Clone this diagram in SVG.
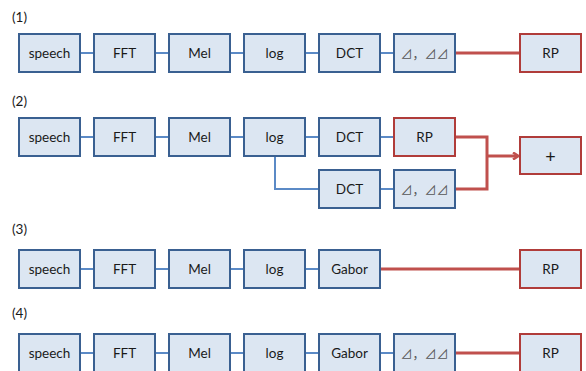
<svg xmlns="http://www.w3.org/2000/svg" width="586" height="371" viewBox="0 0 586 371">
<style>
.b{fill:#DCE6F2;stroke:#3A6091;stroke-width:2}
.r{fill:#DCE6F2;stroke:#B03C3A;stroke-width:2}
.t{font-family:Lato,"Open Sans","Liberation Sans",sans-serif;font-size:13.5px;fill:#1a1a1a;text-anchor:middle;dominant-baseline:central}
.d{font-family:"Noto Sans CJK JP","DejaVu Sans",sans-serif;font-size:12px;fill:#555;text-anchor:middle;dominant-baseline:central}
.lb{font-family:Lato,"Open Sans","Liberation Sans",sans-serif;font-size:13.5px;fill:#1a1a1a}
.cb{stroke:#5B8AC6;stroke-width:2;fill:none}
.cr{stroke:#C0504D;stroke-width:3;fill:none}
</style>
<defs>
<marker id="ah" markerWidth="8" markerHeight="8" refX="6" refY="4" orient="auto" markerUnits="userSpaceOnUse">
<path d="M1,0.5 L6.5,4 L1,7.5" fill="none" stroke="#C0504D" stroke-width="2.5"/>
</marker>
</defs>
<g id="labels">
<text class="lb" x="12" y="22">(1)</text>
<text class="lb" x="12" y="106">(2)</text>
<text class="lb" x="12" y="234">(3)</text>
<text class="lb" x="12" y="318">(4)</text>
</g>
<g id="connectors">
<path class="cb" d="M80,53H95M155,53H170M230,53H245M305,53H320M380,53H395"/>
<path class="cr" d="M455,53H520"/>
<path class="cb" d="M80,137H95M155,137H170M230,137H245M305,137H320M380,137H395"/>
<path class="cb" d="M275,156V189H320M380,189H395"/>
<path class="cr" d="M455,137H487V189H455"/>
<path class="cr" d="M487,156H518" marker-end="url(#ah)"/>
<path class="cb" d="M80,269H95M155,269H170M230,269H245M305,269H320"/>
<path class="cr" d="M380,269H520"/>
<path class="cb" d="M80,353H95M155,353H170M230,353H245M305,353H320M380,353H395"/>
<path class="cr" d="M455,353H520"/>
</g>
<g id="r1-speech"><rect class="b" x="19" y="34" width="61" height="38"/><text class="t" x="49.5" y="53">speech</text></g>
<g id="r1-fft"><rect class="b" x="94" y="34" width="61" height="38"/><text class="t" x="124.5" y="53">FFT</text></g>
<g id="r1-mel"><rect class="b" x="169" y="34" width="61" height="38"/><text class="t" x="199.5" y="53">Mel</text></g>
<g id="r1-log"><rect class="b" x="244" y="34" width="61" height="38"/><text class="t" x="274.5" y="53">log</text></g>
<g id="r1-dct"><rect class="b" x="319" y="34" width="61" height="38"/><text class="t" x="349.5" y="53">DCT</text></g>
<g id="r1-delta"><rect class="b" x="394" y="34" width="61" height="38"/><text class="d" x="424.5" y="53">⊿，⊿⊿</text></g>
<g id="r1-rp"><rect class="r" x="520" y="34" width="61" height="38"/><text class="t" x="550.5" y="53">RP</text></g>

<g id="r2-speech"><rect class="b" x="19" y="118" width="61" height="38"/><text class="t" x="49.5" y="137">speech</text></g>
<g id="r2-fft"><rect class="b" x="94" y="118" width="61" height="38"/><text class="t" x="124.5" y="137">FFT</text></g>
<g id="r2-mel"><rect class="b" x="169" y="118" width="61" height="38"/><text class="t" x="199.5" y="137">Mel</text></g>
<g id="r2-log"><rect class="b" x="244" y="118" width="61" height="38"/><text class="t" x="274.5" y="137">log</text></g>
<g id="r2-dct"><rect class="b" x="319" y="118" width="61" height="38"/><text class="t" x="349.5" y="137">DCT</text></g>
<g id="r2-rp"><rect class="r" x="394" y="118" width="61" height="38"/><text class="t" x="424.5" y="137">RP</text></g>
<g id="r2-dct2"><rect class="b" x="319" y="170" width="61" height="38"/><text class="t" x="349.5" y="189">DCT</text></g>
<g id="r2-delta"><rect class="b" x="394" y="170" width="61" height="38"/><text class="d" x="424.5" y="189">⊿，⊿⊿</text></g>
<g id="r2-plus"><rect class="r" x="520" y="137" width="61" height="37"/><text class="t" x="550.5" y="155.5" style="font-size:18px">+</text></g>

<g id="r3-speech"><rect class="b" x="19" y="250" width="61" height="38"/><text class="t" x="49.5" y="269">speech</text></g>
<g id="r3-fft"><rect class="b" x="94" y="250" width="61" height="38"/><text class="t" x="124.5" y="269">FFT</text></g>
<g id="r3-mel"><rect class="b" x="169" y="250" width="61" height="38"/><text class="t" x="199.5" y="269">Mel</text></g>
<g id="r3-log"><rect class="b" x="244" y="250" width="61" height="38"/><text class="t" x="274.5" y="269">log</text></g>
<g id="r3-gabor"><rect class="b" x="319" y="250" width="61" height="38"/><text class="t" x="349.5" y="269">Gabor</text></g>
<g id="r3-rp"><rect class="r" x="520" y="250" width="61" height="38"/><text class="t" x="550.5" y="269">RP</text></g>

<g id="r4-speech"><rect class="b" x="19" y="334" width="61" height="38"/><text class="t" x="49.5" y="353">speech</text></g>
<g id="r4-fft"><rect class="b" x="94" y="334" width="61" height="38"/><text class="t" x="124.5" y="353">FFT</text></g>
<g id="r4-mel"><rect class="b" x="169" y="334" width="61" height="38"/><text class="t" x="199.5" y="353">Mel</text></g>
<g id="r4-log"><rect class="b" x="244" y="334" width="61" height="38"/><text class="t" x="274.5" y="353">log</text></g>
<g id="r4-gabor"><rect class="b" x="319" y="334" width="61" height="38"/><text class="t" x="349.5" y="353">Gabor</text></g>
<g id="r4-delta"><rect class="b" x="394" y="334" width="61" height="38"/><text class="d" x="424.5" y="353">⊿，⊿⊿</text></g>
<g id="r4-rp"><rect class="r" x="520" y="334" width="61" height="38"/><text class="t" x="550.5" y="353">RP</text></g>
</svg>
